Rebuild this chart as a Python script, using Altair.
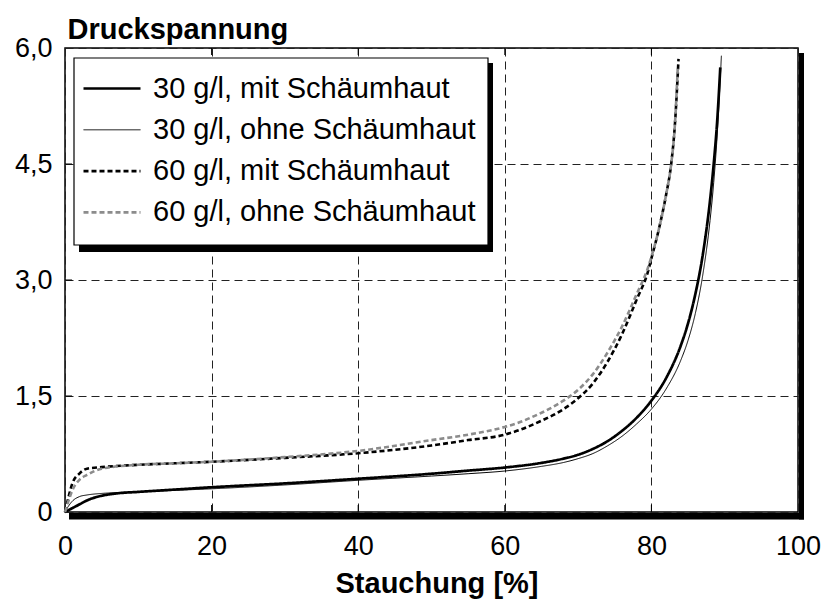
import altair as alt
import pandas as pd

# ---- data -----------------------------------------------------------------
series_names = [
    "30 g/l, mit Schäumhaut",
    "30 g/l, ohne Schäumhaut",
    "60 g/l, mit Schäumhaut",
    "60 g/l, ohne Schäumhaut",
]

x_ticks = [0, 20, 40, 60, 80, 100]
y_ticks = [0, 1.5, 3.0, 4.5, 6.0]
inner_x_ticks = [20, 40, 60, 80]
inner_y_ticks = [1.5, 3.0, 4.5]

x_30_mit = [0, 1, 2, 3, 5, 7, 10, 15, 20, 30, 40, 50, 55, 60, 65, 68, 70, 72, 74, 76, 78, 80, 82, 84, 85, 86, 87, 88, 88.5, 89, 89.4]
y_30_mit = [0, 0.05, 0.10, 0.15, 0.21, 0.24, 0.26, 0.29, 0.32, 0.37, 0.43, 0.495, 0.535, 0.575, 0.635, 0.69, 0.74, 0.815, 0.915, 1.05, 1.22, 1.44, 1.73, 2.15, 2.44, 2.82, 3.32, 4.03, 4.5, 5.09, 5.75]

x_30_ohne = [0, 0.5, 1, 2, 3, 5, 7, 10, 15, 20, 30, 40, 50, 55, 60, 65, 68, 70, 72, 74, 76, 78, 80, 82, 84, 85, 86, 87, 88, 88.5, 89, 89.55]
y_30_ohne = [0, 0.08, 0.14, 0.20, 0.22, 0.24, 0.25, 0.26, 0.28, 0.30, 0.35, 0.41, 0.465, 0.495, 0.53, 0.59, 0.64, 0.69, 0.755, 0.855, 0.98, 1.14, 1.33, 1.59, 1.96, 2.22, 2.57, 3.06, 3.77, 4.26, 4.91, 5.9]

x_60_mit = [0, 0.5, 1, 2, 3, 5, 10, 15, 20, 30, 40, 50, 55, 60, 62, 65, 68, 70, 72, 74, 76, 78, 79.5, 80, 81, 82, 82.7, 83.2, 83.7]
y_60_mit = [0, 0.20, 0.37, 0.50, 0.56, 0.58, 0.61, 0.63, 0.65, 0.70, 0.76, 0.86, 0.93, 1.00, 1.06, 1.18, 1.33, 1.47, 1.66, 1.94, 2.30, 2.75, 3.10, 3.28, 3.65, 4.10, 4.50, 5.00, 5.86]

x_60_ohne = [0, 0.5, 1, 2, 3, 5, 10, 15, 20, 30, 40, 50, 55, 60, 62, 64, 66, 68, 70, 72, 74, 76, 78, 79.5, 80, 81, 82, 82.7, 83.2, 83.6]
y_60_ohne = [0, 0.15, 0.28, 0.42, 0.48, 0.56, 0.61, 0.63, 0.65, 0.71, 0.79, 0.93, 1.00, 1.10, 1.16, 1.24, 1.33, 1.44, 1.58, 1.78, 2.06, 2.40, 2.82, 3.15, 3.30, 3.65, 4.10, 4.50, 5.00, 5.75]

# ---- tables ---------------------------------------------------------------
rows = []
for name, xs, ys in zip(series_names,
                        [x_30_mit, x_30_ohne, x_60_mit, x_60_ohne],
                        [y_30_mit, y_30_ohne, y_60_mit, y_60_ohne]):
    for i, (xv, yv) in enumerate(zip(xs, ys)):
        rows.append({"series": name, "x": xv, "y": yv, "i": i})
df = pd.DataFrame(rows)

xt_df = pd.DataFrame({"v": inner_x_ticks})
yt_df = pd.DataFrame({"v": inner_y_ticks})
one = pd.DataFrame({"k": [0]})

W, H = 733, 464
FONT = "Liberation Sans"

xscale = alt.Scale(domain=[0, 100], nice=False, zero=False)
yscale = alt.Scale(domain=[0, 6], nice=False, zero=False)

x_enc = alt.X("x:Q", scale=xscale, axis=alt.Axis(
    values=x_ticks, title="Stauchung [%]", labelFontSize=27, labelPadding=21,
    titleFontSize=29, titleFontWeight="bold", titleX=W / 2 + 5, titleY=80,
    titleBaseline="alphabetic",
    gridDash=[8, 5], grid=True, ticks=False, domain=False, labelFlush=False))
y_enc = alt.Y("y:Q", scale=yscale, axis=alt.Axis(
    values=y_ticks, title="Druckspannung", titleAngle=0, titleX=2, titleY=-10,
    titleAlign="left", titleBaseline="alphabetic", titleFontSize=29, titleFontWeight="bold",
    labelFontSize=27, labelPadding=13, ticks=False, domain=False, labelFlush=False,
    labelExpr="datum.value == 0 ? '0' : replace(format(datum.value, '.1f'), '.', ',')",
    gridDash=[8, 5], grid=True))

legend = alt.Legend(
    title=None, orient="none", legendX=9, legendY=21,
    symbolType="M-1,0H4.7", symbolSize=400, labelFontSize=29, labelFont=FONT,
    labelOffset=45, rowPadding=11.3, padding=5, labelLimit=0, labelColor="black")

lines = alt.Chart(df).mark_line(interpolate="monotone").encode(
    x=x_enc,
    y=y_enc,
    color=alt.Color("series:N", scale=alt.Scale(domain=series_names,
                    range=["#000000", "#000000", "#000000", "#8c8c8c"]), legend=legend),
    strokeDash=alt.StrokeDash("series:N", scale=alt.Scale(domain=series_names,
                              range=[[1, 0], [1, 0], [5, 3], [5, 3]]), legend=legend),
    strokeWidth=alt.StrokeWidth("series:N", scale=alt.Scale(type="ordinal", domain=series_names,
                                range=[2.7, 1.0, 2.6, 2.6]), legend=legend),
    order="i:Q",
)

# frame drop shadow (bottom and right bars)
shadow_bottom = alt.Chart(one).mark_rect(color="black").encode(
    x=alt.value(4), x2=alt.value(W + 6), y=alt.value(H + 1), y2=alt.value(H + 7.5))
shadow_right = alt.Chart(one).mark_rect(color="black").encode(
    x=alt.value(W + 1), x2=alt.value(W + 6), y=alt.value(5), y2=alt.value(H + 7.5))

# legend box with drop shadow
legend_shadow = alt.Chart(one).mark_rect(color="black").encode(
    x=alt.value(14), x2=alt.value(428), y=alt.value(15), y2=alt.value(204))
legend_box = alt.Chart(one).mark_rect(fill="white", stroke="black", strokeWidth=1.2).encode(
    x=alt.value(9), x2=alt.value(423), y=alt.value(10), y2=alt.value(197))

# inner ticks
tick_bottom = alt.Chart(xt_df).mark_rule(color="black", strokeWidth=1).encode(
    x=alt.X("v:Q", scale=xscale), y=alt.value(H), y2=alt.value(H - 7))
tick_top = alt.Chart(xt_df).mark_rule(color="black", strokeWidth=1).encode(
    x=alt.X("v:Q", scale=xscale), y=alt.value(0), y2=alt.value(7))
tick_left = alt.Chart(yt_df).mark_rule(color="black", strokeWidth=1).encode(
    y=alt.Y("v:Q", scale=yscale), x=alt.value(0), x2=alt.value(7))

chart = alt.layer(
    shadow_bottom, shadow_right, tick_bottom, tick_top, tick_left, lines,
    legend_shadow, legend_box
).properties(
    width=W, height=H,
    padding={"left": 65, "top": 48, "right": 26, "bottom": 90},
    autosize=alt.AutoSizeParams(type="none"),
).configure_view(
    stroke="black", strokeWidth=1.5
).configure_axis(
    labelFont=FONT, titleFont=FONT, labelColor="black", titleColor="black",
    gridColor="#222222", gridWidth=1, gridOpacity=1,
).configure_legend(
    labelFont=FONT
)

chart.save("out.html", embed_options={"renderer": "svg", "actions": False})
